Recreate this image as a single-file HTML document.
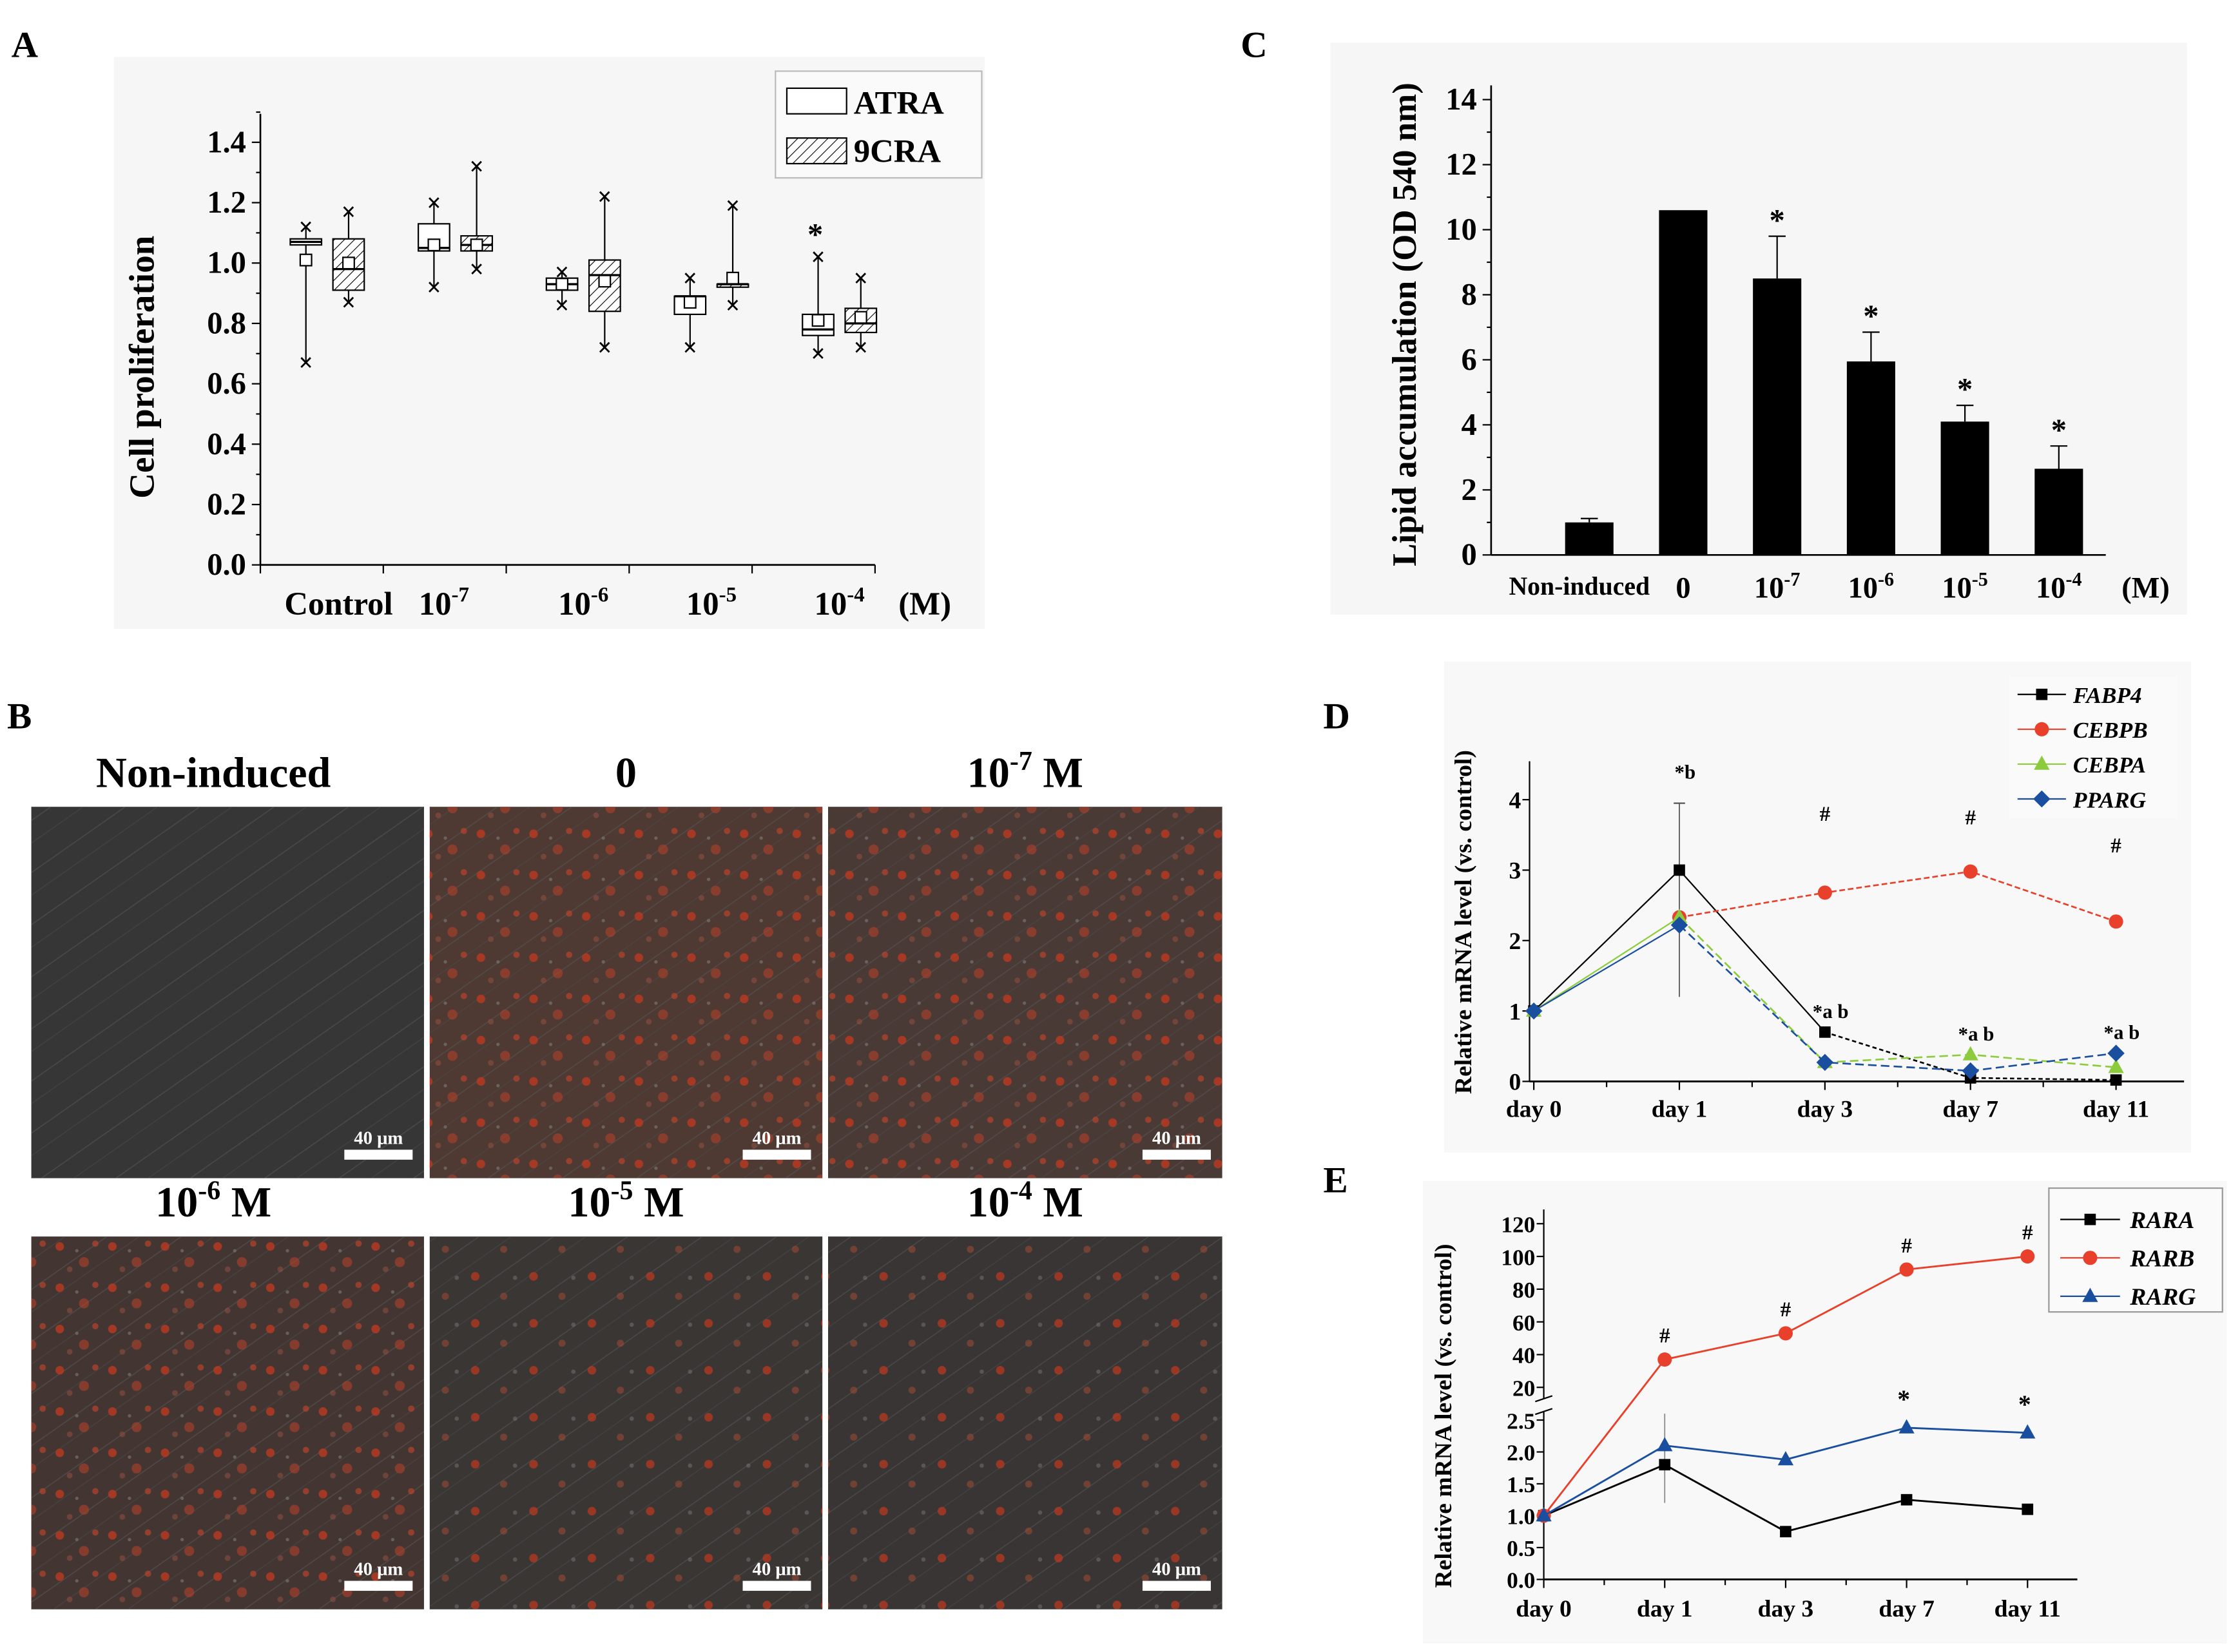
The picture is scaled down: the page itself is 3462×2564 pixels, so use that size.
<!DOCTYPE html>
<html><head><meta charset="utf-8"><style>
html,body{margin:0;padding:0;background:#fff}
svg{display:block}
text{font-family:"Liberation Serif",serif;font-weight:bold;fill:#000}
</style></head><body>
<svg id="fig" width="3462" height="2564" viewBox="0 0 1568 1161" preserveAspectRatio="none">
<defs>
<pattern id="hatch" width="5" height="5" patternUnits="userSpaceOnUse" patternTransform="rotate(45)"><rect width="5" height="5" fill="#fff"/><line x1="0" y1="0" x2="0" y2="5" stroke="#000" stroke-width="1"/></pattern>
<pattern id="cells" width="37" height="29" patternUnits="userSpaceOnUse"><circle cx="5" cy="6" r="3" fill="#c2381f" opacity="0.75"/><circle cx="22" cy="17" r="3.5" fill="#b0402a" opacity="0.6"/><circle cx="30" cy="4" r="2.2" fill="#c9452a" opacity="0.6"/><circle cx="12" cy="22" r="2" fill="#9a5040" opacity="0.5"/><circle cx="17" cy="9" r="1.2" fill="#888" opacity="0.5"/></pattern>
<pattern id="cells2" width="41" height="33" patternUnits="userSpaceOnUse"><circle cx="6" cy="6" r="3" fill="#c2381f" opacity="0.7"/><circle cx="26" cy="20" r="2.5" fill="#a04a32" opacity="0.55"/><circle cx="34" cy="7" r="1.5" fill="#888" opacity="0.4"/></pattern>
<pattern id="fibers" width="30" height="30" patternUnits="userSpaceOnUse" patternTransform="rotate(-35)"><line x1="0" y1="5" x2="30" y2="5" stroke="#555" stroke-width="0.7"/><line x1="0" y1="18" x2="30" y2="18" stroke="#4a4a4a" stroke-width="0.6"/></pattern>
</defs>
<rect width="1568" height="1161" fill="#fff"/>
<g id="panelA"><rect x="80" y="40" width="612" height="402" fill="#f6f6f6"/></g>
<g id="panelC"><rect x="935" y="30" width="602" height="402" fill="#f6f6f6"/></g>
<g id="panelB"></g>
<g id="panelD"><rect x="1015" y="465" width="525" height="345" fill="#f8f8f8"/></g>
<g id="panelE"><rect x="1000" y="830" width="565" height="325" fill="#f8f8f8"/></g>
</svg>
<script>
// ---------- Panel A data ----------
const aCats = ["Control","10-7","10-6","10-5","10-4"];
const aTicks = [0,0.2,0.4,0.6,0.8,1.0,1.2,1.4];
// [min,q1,median,q3,max,mean]
const atraStats = [[0.67,1.06,1.07,1.08,1.12,1.01],[0.92,1.04,1.05,1.13,1.2,1.06],[0.86,0.91,0.93,0.95,0.97,0.93],[0.72,0.83,0.89,0.89,0.95,0.87],[0.70,0.76,0.78,0.83,1.02,0.81]];
const cra9Stats = [[0.87,0.91,0.98,1.08,1.17,1.0],[0.98,1.04,1.06,1.09,1.32,1.06],[0.72,0.84,0.96,1.01,1.22,0.94],[0.86,0.92,0.93,0.93,1.19,0.95],[0.72,0.77,0.80,0.85,0.95,0.82]];
// ---------- Panel C data ----------
const cCats = ["Non-induced","0","10-7","10-6","10-5","10-4"];
const cValues = [1.0,10.6,8.5,5.95,4.1,2.65];
const cErrors = [0.12,0,1.3,0.9,0.5,0.7];
const cStars = [false,false,true,true,true,true];
const cTicks = [0,2,4,6,8,10,12,14];
// ---------- Panel D data ----------
const dDays = ["day 0","day 1","day 3","day 7","day 11"];
const fabp4 = [1,3.0,0.7,0.05,0.02];
const cebpb = [1,2.33,2.68,2.98,2.27];
const cebpa = [1,2.33,0.27,0.38,0.2];
const pparg = [1,2.22,0.27,0.15,0.4];
const dTicks = [0,1,2,3,4];
const dNotes = ["","*b","*a b","*a b","*a b"];
const dHashY = [0,0,3.7,3.65,3.25];
// ---------- Panel E data ----------
const eDays = ["day 0","day 1","day 3","day 7","day 11"];
const rara = [1,1.8,0.75,1.25,1.1];
const rarb = [1,37,53,92,100];
const rarg = [1,2.1,1.88,2.38,2.3];
const eLowTicks = [0,0.5,1.0,1.5,2.0,2.5];
const eHighTicks = [20,40,60,80,100,120];

const NS="http://www.w3.org/2000/svg";
function mk(tag,attrs,parent,txt){const e=document.createElementNS(NS,tag);for(const k in attrs)e.setAttribute(k,attrs[k]);if(txt!==undefined)e.textContent=txt;parent.appendChild(e);return e;}
function sup(parent,x,y,base,exp,size,anchor){const t=mk('text',{x:x,y:y,'font-size':size,'text-anchor':anchor||'middle'},parent);mk('tspan',{},t,base);mk('tspan',{dy:-size*0.4,'font-size':size*0.65},t,exp);return t;}
function catLabel(parent,x,y,c,size){if(c.startsWith('10-')){return sup(parent,x,y,'10','-'+c.slice(3),size);}return mk('text',{x:x,y:y,'font-size':size,'text-anchor':'middle'},parent,c);}

// ===== Panel A =====
(function(){
const g=document.getElementById('panelA');
mk('text',{x:8,y:40,'font-size':26},g,'A');
const x0=183,x1=615,y0=397,yTop=100;
const ys=v=>y0-(v/1.4)*(y0-yTop);
const xc=i=>230+i*90;
mk('line',{x1:x0,y1:80,x2:x0,y2:y0,stroke:'#000','stroke-width':1.2},g);
mk('line',{x1:x0,y1:y0,x2:x1,y2:y0,stroke:'#000','stroke-width':1.2},g);
aTicks.forEach(t=>{const y=ys(t);const tk=mk('line',{x1:x0-6,y1:y,x2:x0,y2:y,stroke:'#000'},g);
 mk('line',{x1:x0-3,y1:ys(t+0.1),x2:x0,y2:ys(t+0.1),stroke:'#000'},g);
 const l=mk('text',{x:x0-10,y:y+7,'font-size':22,'text-anchor':'end'},g,t.toFixed(1));});
for(let i=0;i<=5;i++){const x=x0+i*86.4;mk('line',{x1:x,y1:y0,x2:x,y2:y0+6,stroke:'#000'},g);}
const yt=mk('text',{x:0,y:0,'font-size':25,'text-anchor':'middle',transform:'translate(108,258) rotate(-90)'},g,'Cell proliferation');
aCats.forEach((c,i)=>{const t=catLabel(g,i==0?238:xc(i)+(i==1?-8:0),432,c,23);});
mk('text',{x:650,y:432,'font-size':23,'text-anchor':'middle'},g,'(M)');
function box(s,cx,fill,name){const w=22;const bg=mk('g',{},g);
 mk('line',{x1:cx,y1:ys(s[0]),x2:cx,y2:ys(s[1]),stroke:'#000'},bg);
 mk('line',{x1:cx,y1:ys(s[3]),x2:cx,y2:ys(s[4]),stroke:'#000'},bg);
 mk('rect',{x:cx-w/2,y:ys(s[3]),width:w,height:Math.max(1,ys(s[1])-ys(s[3])),fill:fill,stroke:'#000'},bg);
 mk('line',{x1:cx-w/2,y1:ys(s[2]),x2:cx+w/2,y2:ys(s[2]),stroke:'#000','stroke-width':1.5},bg);
 [s[0],s[4]].forEach(v=>mk('text',{x:cx,y:ys(v)+6,'font-size':18,'text-anchor':'middle','font-weight':'normal'},bg,'×'));
 mk('rect',{x:cx-4,y:ys(s[5])-4,width:8,height:8,fill:'#fff',stroke:'#000'},bg);}
atraStats.forEach((s,i)=>box(s,xc(i)-15,'#fff','box-atra'));
cra9Stats.forEach((s,i)=>box(s,xc(i)+15,'url(#hatch)','box-9cra'));
mk('text',{x:573,y:172,'font-size':22,'text-anchor':'middle'},g,'*');
const lg=mk('g',{},g);
mk('rect',{x:545,y:50,width:145,height:75,fill:'#fafafa',stroke:'#bbb'},lg);
mk('rect',{x:553,y:62,width:42,height:18,fill:'#fff',stroke:'#000'},lg);
mk('text',{x:600,y:80,'font-size':23},lg,'ATRA');
mk('rect',{x:553,y:97,width:42,height:18,fill:'url(#hatch)',stroke:'#000'},lg);
mk('text',{x:600,y:114,'font-size':23},lg,'9CRA');
})();

// ===== Panel C =====
(function(){
const g=document.getElementById('panelC');
mk('text',{x:872,y:40,'font-size':26},g,'C');
const x0=1048,x1=1480,y0=390,yTop=70;
const ys=v=>y0-(v/14)*(y0-yTop);
const xc=i=>1117+i*66;
mk('line',{x1:x0,y1:60,x2:x0,y2:y0,stroke:'#000','stroke-width':1.2},g);
mk('line',{x1:x0,y1:y0,x2:x1,y2:y0,stroke:'#000','stroke-width':1.2},g);
cTicks.forEach(t=>{const y=ys(t);mk('line',{x1:x0-6,y1:y,x2:x0,y2:y,stroke:'#000'},g);if(t<14)mk('line',{x1:x0-3,y1:ys(t+1),x2:x0,y2:ys(t+1),stroke:'#000'},g);
 const l=mk('text',{x:x0-10,y:y+7,'font-size':22,'text-anchor':'end'},g,String(t));});
const yt=mk('text',{x:0,y:0,'font-size':24,'text-anchor':'middle',transform:'translate(995,228) rotate(-90)'},g,'Lipid accumulation (OD 540 nm)');
cValues.forEach((v,i)=>{const cx=xc(i);const b=mk('rect',{x:cx-17,y:ys(v),width:34,height:y0-ys(v),fill:'#000'},g);
 if(cErrors[i]>0){mk('line',{x1:cx,y1:ys(v),x2:cx,y2:ys(v+cErrors[i]),stroke:'#000'},g);mk('line',{x1:cx-6,y1:ys(v+cErrors[i]),x2:cx+6,y2:ys(v+cErrors[i]),stroke:'#000'},g);}
 if(cStars[i])mk('text',{x:cx,y:ys(v+cErrors[i])-4,'font-size':22,'text-anchor':'middle'},g,'*');
 const l=catLabel(g,i==0?1110:cx,i==0?418:420,cCats[i],i==0?18:21);});
mk('text',{x:1508,y:420,'font-size':21,'text-anchor':'middle'},g,'(M)');
})();

// ===== Panel B =====
(function(){
const g=document.getElementById('panelB');
mk('text',{x:5,y:512,'font-size':26},g,'B');
const titles=[["Non-induced",""],["0",""],["10","-7"],["10","-6"],["10","-5"],["10","-4"]];
const xs=[22,302,582],ws=[276,276,277],ys=[567,869],hs=[261,262];
const pats=[null,'url(#cells)','url(#cells)','url(#cells)','url(#cells2)','url(#cells2)'];
const bases=['#363636','#4e3a33','#4a3a35','#433632','#3a3634','#383534'];
for(let k=0;k<6;k++){const r=Math.floor(k/3),c=k%3;const x=xs[c],y=ys[r],w=ws[c],h=hs[r];
 const ig=mk('g',{},g);
 mk('rect',{x:x,y:y,width:w,height:h,fill:bases[k]},ig);
 mk('rect',{x:x,y:y,width:w,height:h,fill:'url(#fibers)',opacity:0.6},ig);
 if(pats[k])mk('rect',{x:x,y:y,width:w,height:h,fill:pats[k]},ig);
 mk('rect',{x:x+w-56,y:y+h-20,width:48,height:7,fill:'#fff'},ig);
 mk('text',{x:x+w-32,y:y+h-24,'font-size':13,'text-anchor':'middle',style:'fill:#fff'},ig,'40 μm');
 const cx=x+w/2+(c==0?-10:0),ty=y-14;
 let t;
 if(titles[k][1]){t=mk('text',{x:cx,y:ty,'font-size':30,'text-anchor':'middle'},g);mk('tspan',{},t,'10');mk('tspan',{dy:-12,'font-size':19},t,titles[k][1]);mk('tspan',{dy:12},t,' M');}
 else t=mk('text',{x:cx,y:ty,'font-size':30,'text-anchor':'middle'},g,titles[k][0]);
 }
})();

// ===== Panel D =====
(function(){
const g=document.getElementById('panelD');
mk('text',{x:930,y:512,'font-size':26},g,'D');
const x0=1075,x1=1535,y0=760,yTop=562;
const ys=v=>y0-(v/4)*(y0-yTop);
const xd=i=>1078+i*102.3;
mk('line',{x1:x0,y1:535,x2:x0,y2:y0,stroke:'#000'},g);
mk('line',{x1:x0,y1:y0,x2:x1,y2:y0,stroke:'#000','stroke-width':1.3},g);
dTicks.forEach(t=>{mk('line',{x1:x0-5,y1:ys(t),x2:x0,y2:ys(t),stroke:'#000'},g);const l=mk('text',{x:x0-6,y:ys(t)+6,'font-size':17,'text-anchor':'end'},g,String(t));});
for(let i=0;i<9;i++){mk('line',{x1:1078+i*51.15,y1:y0,x2:1078+i*51.15,y2:y0+(i%2?4:6),stroke:'#000'},g);}
dDays.forEach((d,i)=>{const l=mk('text',{x:xd(i),y:785,'font-size':17,'text-anchor':'middle'},g,d);});
const yt=mk('text',{x:0,y:0,'font-size':17,'text-anchor':'middle',transform:'translate(1034,648) rotate(-90)'},g,'Relative mRNA level (vs. control)');
mk('line',{x1:xd(1),y1:ys(3.95),x2:xd(1),y2:ys(1.2),stroke:'#555','stroke-width':0.8},g);
mk('line',{x1:xd(1)-4,y1:ys(3.95),x2:xd(1)+4,y2:ys(3.95),stroke:'#555'},g);
const series=[[fabp4,'#000','sq','FABP4','3,2'],[cebpb,'#e8402a','ci','CEBPB','4,2'],[cebpa,'#8ccc3c','tr','CEBPA','6,3'],[pparg,'#1a4fa0','di','PPARG','6,3']];
function marker(p,x,y,type,col){if(type=='sq')mk('rect',{x:x-4,y:y-4,width:8,height:8,fill:col},p);else if(type=='ci')mk('circle',{cx:x,cy:y,r:5,fill:col},p);else if(type=='tr')mk('polygon',{points:`${x},${y-6} ${x-5.5},${y+4} ${x+5.5},${y+4}`,fill:col},p);else mk('polygon',{points:`${x},${y-6} ${x+6},${y} ${x},${y+6} ${x-6},${y}`,fill:col},p);}
series.forEach(([vals,col,m,name,dash])=>{const sg=mk('g',{},g);
 const pts=vals.map((v,i)=>xd(i)+','+ys(v));
 if(name!=='CEBPB')mk('polyline',{points:pts.slice(0,2).join(' '),fill:'none',stroke:col,'stroke-width':1},sg);
 if(name=='FABP4')mk('polyline',{points:pts.slice(1,3).join(' '),fill:'none',stroke:col,'stroke-width':1},sg);
 mk('polyline',{points:(name=='FABP4'?pts.slice(2):pts.slice(1)).join(' '),fill:'none',stroke:col,'stroke-width':1.2,'stroke-dasharray':dash},sg);
 vals.forEach((v,i)=>{if(name=='CEBPB'&&i==0)return;marker(sg,xd(i),ys(v),m,col);});});
dNotes.forEach((n,i)=>{if(n)mk('text',{x:xd(i)+4,y:i==1?ys(4.3):ys(Math.max(fabp4[i],cebpa[i],pparg[i]))-10,'font-size':14,'text-anchor':'middle'},g,n);if(dHashY[i])mk('text',{x:xd(i),y:ys(dHashY[i]),'font-size':15,'text-anchor':'middle'},g,'#');});
const lg=mk('g',{},g);
mk('rect',{x:1412,y:475,width:118,height:100,fill:'#fafafa'},lg);
series.forEach(([vals,col,m,name],k)=>{const y=488+k*24.5;mk('line',{x1:1418,y1:y,x2:1452,y2:y,stroke:col},lg);marker(lg,1435,y,m,col);mk('text',{x:1457,y:y+6,'font-size':16,'font-style':'italic'},lg,name);});
})();

// ===== Panel E =====
(function(){
const g=document.getElementById('panelE');
mk('text',{x:930,y:838,'font-size':26},g,'E');
const x0=1085,y0=1110;
const lowY=v=>y0-(v/2.5)*112;
const highY=v=>975-((v-20)/100)*115;
const ys=v=>v>20?highY(v):lowY(v);
const xd=i=>1085+i*85;
mk('line',{x1:x0,y1:850,x2:x0,y2:983,stroke:'#000'},g);
mk('line',{x1:x0,y1:992,x2:x0,y2:y0,stroke:'#000'},g);
mk('line',{x1:x0-6,y1:985,x2:x0+6,y2:981,stroke:'#000'},g);
mk('line',{x1:x0-6,y1:994,x2:x0+6,y2:990,stroke:'#000'},g);
mk('line',{x1:x0,y1:y0,x2:1460,y2:y0,stroke:'#000','stroke-width':1.3},g);
eLowTicks.forEach(t=>{mk('line',{x1:x0-5,y1:lowY(t),x2:x0,y2:lowY(t),stroke:'#000'},g);const l=mk('text',{x:x0-6,y:lowY(t)+6,'font-size':16,'text-anchor':'end'},g,t.toFixed(1));});
eHighTicks.forEach(t=>{mk('line',{x1:x0-5,y1:highY(t),x2:x0,y2:highY(t),stroke:'#000'},g);const l=mk('text',{x:x0-6,y:highY(t)+6,'font-size':16,'text-anchor':'end'},g,String(t));});
for(let i=0;i<9;i++)mk('line',{x1:1085+i*42.5,y1:y0,x2:1085+i*42.5,y2:y0+(i%2?4:6),stroke:'#000'},g);
eDays.forEach((d,i)=>{const l=mk('text',{x:xd(i),y:1136,'font-size':17,'text-anchor':'middle'},g,d);});
const yt=mk('text',{x:0,y:0,'font-size':17,'text-anchor':'middle',transform:'translate(1020,995) rotate(-90)'},g,'Relative mRNA level (vs. control)');
const series=[[rara,'#000','sq','RARA'],[rarb,'#e8402a','ci','RARB'],[rarg,'#1a4fa0','tr','RARG']];
function marker(p,x,y,type,col){if(type=='sq')mk('rect',{x:x-4,y:y-4,width:8,height:8,fill:col},p);else if(type=='ci')mk('circle',{cx:x,cy:y,r:5,fill:col},p);else mk('polygon',{points:`${x},${y-6} ${x-5.5},${y+4} ${x+5.5},${y+4}`,fill:col},p);}
mk('line',{x1:xd(1),y1:ys(2.6),x2:xd(1),y2:ys(1.2),stroke:'#888','stroke-width':0.8},g);
series.forEach(([vals,col,m,name])=>{const sg=mk('g',{},g);
 mk('polyline',{points:vals.map((v,i)=>xd(i)+','+ys(v)).join(' '),fill:'none',stroke:col,'stroke-width':1.3},sg);
 vals.forEach((v,i)=>marker(sg,xd(i),ys(v),m,col));});
rarb.forEach((v,i)=>{if(i>0)mk('text',{x:xd(i),y:ys(v)-12,'font-size':15,'text-anchor':'middle'},g,'#');});
[3,4].forEach(i=>mk('text',{x:xd(i)-2,y:ys(rarg[i])-14,'font-size':18,'text-anchor':'middle'},g,'*'));
const lg=mk('g',{},g);
mk('rect',{x:1440,y:835,width:122,height:87,fill:'#fafafa',stroke:'#999'},lg);
series.forEach(([vals,col,m,name],k)=>{const y=857+k*27;mk('line',{x1:1448,y1:y,x2:1490,y2:y,stroke:col},lg);marker(lg,1469,y,m,col);mk('text',{x:1497,y:y+6,'font-size':17,'font-style':'italic'},lg,name);});
})();
</script>
</body></html>
